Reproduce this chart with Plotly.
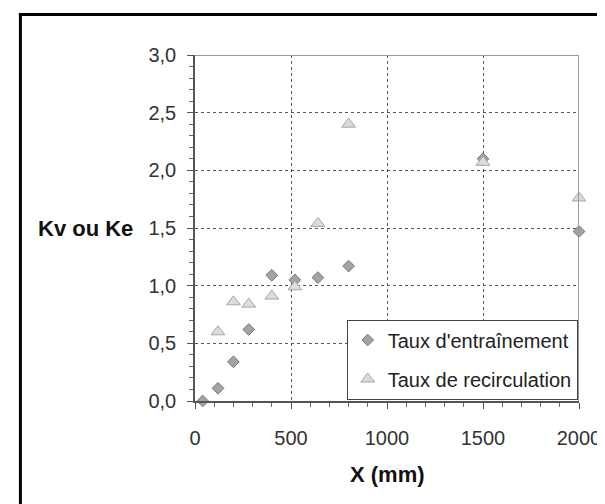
import plotly.graph_objects as go

# data
x_entr = [40, 120, 200, 280, 400, 520, 640, 800, 1500, 2000]
y_entr = [0.0, 0.11, 0.34, 0.62, 1.09, 1.05, 1.07, 1.17, 2.10, 1.47]
x_recirc = [120, 200, 280, 400, 520, 640, 800, 1500, 2000]
y_recirc = [0.60, 0.86, 0.84, 0.91, 0.99, 1.54, 2.40, 2.07, 1.76]

y_ticks = [0, 0.5, 1.0, 1.5, 2.0, 2.5, 3.0]
x_ticks = [0, 500, 1000, 1500, 2000]

W, H = 605, 504
L, R, T, B = 187, 32, 47, 111
PW, PH = W - L - R, H - T - B
FONT = "Liberation Sans, Arial, sans-serif"


def px(x):
    return (x - L) / PW


def py(y):
    return (H - B - y) / PH


fig = go.Figure()
fig.add_trace(go.Scatter(
    x=x_entr, y=y_entr, mode="markers", name="Taux d'entraînement",
    legendgroup="a",
    marker=dict(symbol="diamond", size=9, color="#a3a3a3",
                line=dict(color="#767676", width=1)),
    cliponaxis=False,
))
fig.add_trace(go.Scatter(
    x=x_recirc, y=y_recirc, mode="markers", name="Taux de recirculation",
    legendgroup="b",
    marker=dict(symbol="triangle-up", size=12, color="#dcdcdc",
                line=dict(color="#a5a5a5", width=1)),
    cliponaxis=False,
))

axis_common = dict(
    showline=True, linecolor="#555555", linewidth=1.5,
    ticks="outside", ticklen=6, tickcolor="#555555", tickwidth=1,
    showgrid=True, gridcolor="#555555", gridwidth=1, griddash="dot",
    zeroline=False,
    tickfont=dict(family=FONT, size=20, color="#333333"),
)

fig.update_xaxes(
    range=[0, 2000], tickvals=x_ticks, ticklabelstandoff=12,
    minor=dict(dtick=100, ticks="outside", ticklen=4, tickcolor="#666666", showgrid=False),
    **axis_common,
)
fig.update_yaxes(
    range=[0, 3], tickvals=y_ticks, tickformat=".1f", ticklabelstandoff=7,
    minor=dict(dtick=0.1, ticks="outside", ticklen=4, tickcolor="#666666", showgrid=False),
    **axis_common,
)

shapes = [
    # top and right plot border (lighter gray)
    dict(type="line", xref="x", yref="y", x0=0, x1=2000, y0=3, y1=3,
         line=dict(color="#9a9a9a", width=2)),
    dict(type="line", xref="x", yref="y", x0=2000, x1=2000, y0=0, y1=3,
         line=dict(color="#9a9a9a", width=2)),
    # outer black frame (top and left edges only visible)
    dict(type="line", xref="paper", yref="paper", x0=px(10), x1=px(W + 5),
         y0=py(6.5), y1=py(6.5), line=dict(color="black", width=3)),
    dict(type="line", xref="paper", yref="paper", x0=px(11.5), x1=px(11.5),
         y0=py(5), y1=py(H + 5), line=dict(color="black", width=3)),
]

annotations = [
    dict(text="<b>Kv ou Ke</b>", xref="paper", yref="paper", x=px(127), y=0.5,
         xanchor="right", yanchor="middle", showarrow=False,
         font=dict(family=FONT, size=22, color="#111111")),
    dict(text="<b>X (mm)</b>", xref="paper", yref="paper", x=0.5, y=py(466),
         xanchor="center", yanchor="middle", showarrow=False,
         font=dict(family=FONT, size=22, color="#111111")),
]

fig.update_layout(
    width=W, height=H,
    margin=dict(l=L, r=R, t=T, b=B),
    paper_bgcolor="white", plot_bgcolor="white",
    separators=", ",
    showlegend=True,
    legend=dict(
        x=px(571.7), y=py(311.5), xanchor="right", yanchor="top",
        bgcolor="white", bordercolor="#444444", borderwidth=1,
        font=dict(family=FONT, size=20, color="#222222"),
        tracegroupgap=10,
    ),
    shapes=shapes,
    annotations=annotations,
)

fig.write_html("out.html")
